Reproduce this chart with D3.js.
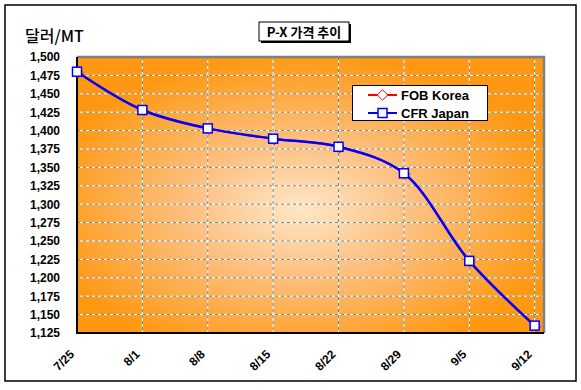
<!DOCTYPE html>
<html>
<head>
<meta charset="utf-8">
<script src="https://cdn.jsdelivr.net/npm/d3@7"></script>
<style>
  body { margin: 0; background: #fff; }
  text { font-family: "Liberation Sans", Arial, sans-serif; }
</style>
</head>
<body>
<script>
// data
const dates = ['7/25', '8/1', '8/8', '8/15', '8/22', '8/29', '9/5', '9/12'];
const fobKorea = [1480, 1428, 1403, 1389, 1378, 1342, 1223, 1135];
const cfrJapan = [1480, 1428, 1403, 1389, 1378, 1342, 1223, 1135];
const yTicks = [1125, 1150, 1175, 1200, 1225, 1250, 1275, 1300, 1325, 1350, 1375, 1400, 1425, 1450, 1475, 1500];
const titleText = 'P-X 가격 추이';
const unitText = '달러/MT';
const seriesNames = ['FOB Korea', 'CFR Japan'];

const w = 581, h = 390;
const pLeft = 77, pRight = 544, pTop = 57, pBottom = 333;

const parse = s => { const p = s.split('/'); return new Date(2008, +p[0] - 1, +p[1]); };
const dateVals = dates.map(parse);

const svg = d3.select('body').append('svg')
    .attr('width', w)
    .attr('height', h);

const defs = svg.append('defs');
const grad = defs.append('radialGradient')
    .attr('id', 'bg')
    .attr('cx', 0.48).attr('cy', 0.55).attr('r', 0.56)
    .attr('fx', 0.48).attr('fy', 0.55);
grad.append('stop').attr('offset', 0).attr('stop-color', '#fee7c7');
grad.append('stop').attr('offset', 0.42).attr('stop-color', '#fcc182');
grad.append('stop').attr('offset', 1).attr('stop-color', '#fe9812');

svg.append('rect')
    .attr('x', 5).attr('y', 5)
    .attr('width', 571).attr('height', 376)
    .attr('fill', '#fff')
    .attr('stroke', '#000')
    .attr('stroke-width', 1.5);

const x = d3.scaleTime()
    .domain([parse('7/25'), parse('9/13')])
    .range([pLeft, pRight]);
const y = d3.scaleLinear()
    .domain([1125, 1500])
    .range([pBottom, pTop]);

// plot area
svg.append('rect')
    .attr('x', pLeft).attr('y', pTop)
    .attr('width', pRight - pLeft).attr('height', pBottom - pTop)
    .attr('fill', 'url(#bg)');

// grid: white line with gray dashes over it
const gridY = yTicks.filter(v => v > 1125 && v < 1500);
const gridX = dateVals.slice(1);
['#fff', '#7f7f7f'].forEach((c, i) => {
  svg.append('g').selectAll('line')
    .data(gridY).enter().append('line')
    .attr('x1', pLeft).attr('x2', pRight)
    .attr('y1', d => y(d)).attr('y2', d => y(d))
    .attr('stroke', c)
    .attr('stroke-width', 1)
    .attr('stroke-dasharray', i ? '3,3' : null);
  svg.append('g').selectAll('line')
    .data(gridX).enter().append('line')
    .attr('x1', d => x(d)).attr('x2', d => x(d))
    .attr('y1', pTop).attr('y2', pBottom)
    .attr('stroke', c)
    .attr('stroke-width', 1)
    .attr('stroke-dasharray', i ? '3,3' : null);
});

// plot borders
svg.append('path')
    .attr('d', `M${pLeft},${pTop}H${pRight}V${pBottom}`)
    .attr('fill', 'none')
    .attr('stroke', '#808080')
    .attr('stroke-width', 2.5);
svg.append('path')
    .attr('d', `M${pLeft},${pTop}V${pBottom}H${pRight}`)
    .attr('fill', 'none')
    .attr('stroke', '#000')
    .attr('stroke-width', 2);

// y axis labels
svg.append('g').selectAll('text')
    .data(yTicks).enter().append('text')
    .attr('x', 60)
    .attr('y', d => y(d))
    .attr('dy', '0.36em')
    .attr('text-anchor', 'end')
    .attr('font-size', 12)
    .attr('font-weight', 'bold')
    .text(d3.format(','));

// x axis labels
svg.append('g').selectAll('text')
    .data(dateVals).enter().append('text')
    .attr('transform', d => `translate(${x(d) - 2},355) rotate(-45)`)
    .attr('text-anchor', 'end')
    .attr('font-size', 12)
    .attr('font-weight', 'bold')
    .text((d, i) => dates[i]);

const line = d3.line()
    .x((d, i) => x(dateVals[i]))
    .y(d => y(d))
    .curve(d3.curveCatmullRom.alpha(0.5));

const diamond = d3.symbol().type(d3.symbolDiamond2).size(70);

// FOB Korea (red, underneath)
svg.append('path')
    .attr('d', line(fobKorea))
    .attr('fill', 'none')
    .attr('stroke', '#ff0000')
    .attr('stroke-width', 2);
svg.append('g').selectAll('path')
    .data(fobKorea).enter().append('path')
    .attr('transform', (d, i) => `translate(${x(dateVals[i]) + 1},${y(d) + 1})`)
    .attr('d', diamond)
    .attr('fill', '#fff')
    .attr('stroke', '#ff0000')
    .attr('stroke-width', 1);

// CFR Japan (blue)
svg.append('path')
    .attr('d', line(cfrJapan))
    .attr('fill', 'none')
    .attr('stroke', '#0000ff')
    .attr('stroke-width', 2.5);
svg.append('g').selectAll('rect')
    .data(cfrJapan).enter().append('rect')
    .attr('x', (d, i) => x(dateVals[i]) - 4.5)
    .attr('y', d => y(d) - 4.5)
    .attr('width', 9).attr('height', 9)
    .attr('fill', '#fff')
    .attr('stroke', '#0000ff')
    .attr('stroke-width', 1.5);

// title box
svg.append('rect')
    .attr('x', 261).attr('y', 24)
    .attr('width', 90).attr('height', 19)
    .attr('fill', '#000');
svg.append('rect')
    .attr('x', 259).attr('y', 22)
    .attr('width', 90).attr('height', 19)
    .attr('fill', '#fff')
    .attr('stroke', '#000')
    .attr('stroke-width', 1);
svg.append('text')
    .attr('x', 304).attr('y', 36.5)
    .attr('text-anchor', 'middle')
    .attr('font-size', 13)
    .attr('font-weight', 'bold')
    .style('font-family', '"Noto Sans CJK KR", sans-serif')
    .text(titleText);

// unit label
svg.append('text')
    .attr('x', 25).attr('y', 42)
    .attr('font-size', 16)
    .attr('font-weight', 500)
    .style('font-family', '"Noto Sans CJK KR", sans-serif')
    .text(unitText);

// legend
const lg = svg.append('g');
lg.append('rect')
    .attr('x', 352.5).attr('y', 85.5)
    .attr('width', 135).attr('height', 35)
    .attr('fill', '#fff')
    .attr('stroke', '#000')
    .attr('stroke-width', 1);
const colors = ['#ff0000', '#0000ff'];
seriesNames.forEach((name, i) => {
  const ly = 95 + i * 18;
  lg.append('line')
    .attr('x1', 368).attr('x2', 397)
    .attr('y1', ly).attr('y2', ly)
    .attr('stroke', colors[i])
    .attr('stroke-width', 2);
  if (i === 0) {
    lg.append('path')
      .attr('transform', `translate(382.5,${ly})`)
      .attr('d', diamond)
      .attr('fill', '#fff')
      .attr('stroke', colors[i])
      .attr('stroke-width', 1);
  } else {
    lg.append('rect')
      .attr('x', 378).attr('y', ly - 4.5)
      .attr('width', 9).attr('height', 9)
      .attr('fill', '#fff')
      .attr('stroke', colors[i])
      .attr('stroke-width', 1.5);
  }
  lg.append('text')
    .attr('x', 401).attr('y', ly + 5)
    .attr('font-size', 13)
    .attr('font-weight', 'bold')
    .text(name);
});
</script>
</body>
</html>
